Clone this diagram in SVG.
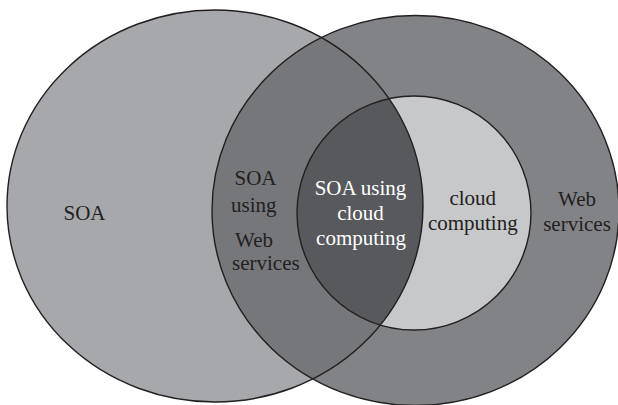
<svg xmlns="http://www.w3.org/2000/svg" xmlns:xlink="http://www.w3.org/1999/xlink" width="618" height="405" viewBox="0 0 618 405">
  <style>
    .outline { fill: none; stroke: #231f20; stroke-width: 1.4; }
    .lbl { font-family: "Liberation Serif", "Times New Roman", serif; font-size: 21px; fill: #231f20; }
    .lbl-light { fill: #ffffff; }
    .mid { text-anchor: middle; }
  </style>
  <defs>
    <ellipse id="soaShape" cx="215" cy="206" rx="208" ry="196"/>
    <ellipse id="wsShape" cx="415.5" cy="210.5" rx="203.5" ry="195"/>
    <circle id="ccShape" cx="414" cy="213" r="117"/>
    <clipPath id="clipSoa">
      <use href="#soaShape" xlink:href="#soaShape"/>
    </clipPath>
  </defs>

  <rect width="618" height="405" fill="#ffffff"/>

  <!-- SOA set -->
  <g id="soa">
    <use href="#soaShape" xlink:href="#soaShape" fill="#a7a8ab"/>
  </g>

  <!-- Web services set, with its overlap on SOA -->
  <g id="web-services">
    <use href="#wsShape" xlink:href="#wsShape" fill="#828387"/>
    <use href="#wsShape" xlink:href="#wsShape" fill="#76777b" clip-path="url(#clipSoa)"/>
  </g>

  <!-- cloud computing set, with its overlap on SOA -->
  <g id="cloud-computing">
    <use href="#ccShape" xlink:href="#ccShape" fill="#c7c8ca"/>
    <use href="#ccShape" xlink:href="#ccShape" fill="#58595c" clip-path="url(#clipSoa)"/>
  </g>

  <!-- set boundaries -->
  <g id="outlines">
    <use href="#soaShape" xlink:href="#soaShape" class="outline"/>
    <use href="#wsShape" xlink:href="#wsShape" class="outline"/>
    <use href="#ccShape" xlink:href="#ccShape" class="outline"/>
  </g>

  <!-- region labels -->
  <g id="labels">
    <text class="lbl" x="63.5" y="220">SOA</text>

    <text class="lbl" x="234.5" y="184.5">SOA</text>
    <text class="lbl" x="231" y="211.5">using</text>
    <text class="lbl" x="235" y="246.5">Web</text>
    <text class="lbl" x="232" y="270">services</text>

    <text class="lbl lbl-light mid" x="360.5" y="194.5">SOA using</text>
    <text class="lbl lbl-light mid" x="360.5" y="220">cloud</text>
    <text class="lbl lbl-light mid" x="361" y="245">computing</text>

    <text class="lbl mid" x="472.8" y="205">cloud</text>
    <text class="lbl mid" x="472.8" y="230">computing</text>

    <text class="lbl mid" x="577" y="206">Web</text>
    <text class="lbl mid" x="577" y="230.5">services</text>
  </g>
</svg>
